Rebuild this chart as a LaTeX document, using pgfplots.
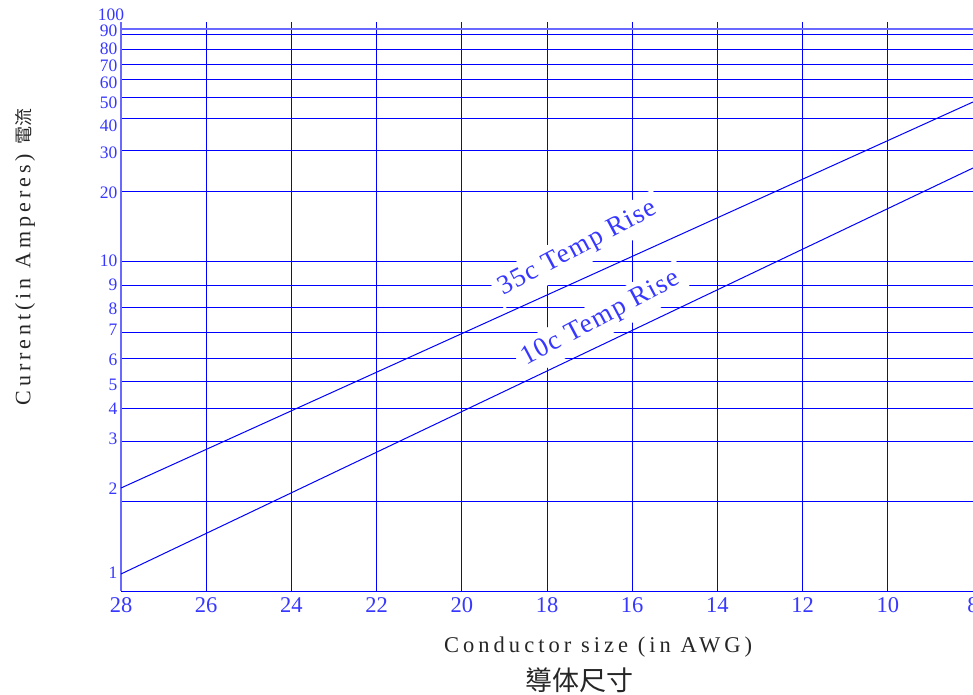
\documentclass[border=0pt]{standalone}
\usepackage{pgfplots}
\pgfplotsset{compat=1.18}
\usepackage{fontspec}
\setmainfont{Liberation Serif}
\newfontfamily\cjk{Noto Sans CJK TC}
\definecolor{tb}{RGB}{55,55,255}
\definecolor{lb}{RGB}{105,105,255}

\begin{document}
\begin{tikzpicture}
\begin{axis}[
  set layers,
  scale only axis,
  width=852pt, height=569pt,
  xmin=8, xmax=28, x dir=reverse,
  ymin=0, ymax=569,
  axis line style={draw=none},
  clip=false,
  /pgf/number format/assume math mode=true,
  major tick length=0pt,
  xtick={8,10,...,28},
  xticklabel style={font=\fontsize{22.5}{22.5}\selectfont, text=tb, yshift=-3pt},
  ytick={18,102,152,182,206,231,261,282,306,330,398,438,465,488,508,525,542,560},
  yticklabels={1,2,3,4,5,6,7,8,9,10,20,30,40,50,60,70,80,90},
  yticklabel style={font=\fontsize{17.5}{17.5}\selectfont, text=tb},
  extra x ticks={10,12,...,26},
  extra x tick labels={},
  extra x tick style={grid=major, major grid style={blue, line width=1pt}},
  extra y ticks={90,150,183,210,233,259,284,306,330,399,440,472,493,511,526,541,556},
  extra y tick labels={},
  extra y tick style={grid=major, major grid style={blue, line width=1pt}},
]
\coordinate (O) at (axis cs:28,0);
% axis frame lines
\draw[lb, line width=2pt] (axis cs:28,562) -- (axis cs:8,562);
\draw[lb, line width=2.5pt] (axis cs:28,0) -- (axis cs:28,569);
\draw[blue, line width=1pt] (axis cs:28,0) -- (axis cs:8,0);
\node[text=tb, font=\fontsize{17.5}{17.5}\selectfont] at (axis cs:28.235,576) {100};

% curve labels with white boxes hiding the grid
\begin{pgfonlayer}{pre main}
\node[fill=white, rotate=28, text=tb, inner sep=6pt,
      font=\fontsize{27}{29}\selectfont\addfontfeature{LetterSpace=5}]
      at (axis cs:17.27,342) {35c Temp Rise};
\node[fill=white, rotate=28, text=tb, inner sep=6pt,
      font=\fontsize{27}{29}\selectfont\addfontfeature{LetterSpace=5}]
      at (axis cs:16.73,272) {10c Temp Rise};
\end{pgfonlayer}

% rating lines (vertical position in chart units of the printed scale)
\addplot[blue, line width=1pt] coordinates {(28,103) (8,489)};
\addplot[blue, line width=1pt] coordinates {(28,17) (8,423)};

% axis titles
\node[rotate=90, text=black!85, font=\fontsize{22}{24}\selectfont\addfontfeature{LetterSpace=18}]
  at (axis cs:30.25,334) {Current(in Amperes) {\cjk\fontsize{18}{20}\selectfont 電流}};
\node[text=black!85, font=\fontsize{22.5}{24}\selectfont\addfontfeature{LetterSpace=18}]
  at (axis cs:16.80,-56) {Conductor size (in AWG)};
\node[text=black!85, font=\cjk\fontsize{27}{29}\selectfont]
  at (axis cs:17.23,-89) {導体尺寸};
\end{axis}
\pgfresetboundingbox
\path[use as bounding box] (O) ++(-121pt,-103pt) rectangle ++(973pt,694pt);
\end{tikzpicture}
\end{document}
